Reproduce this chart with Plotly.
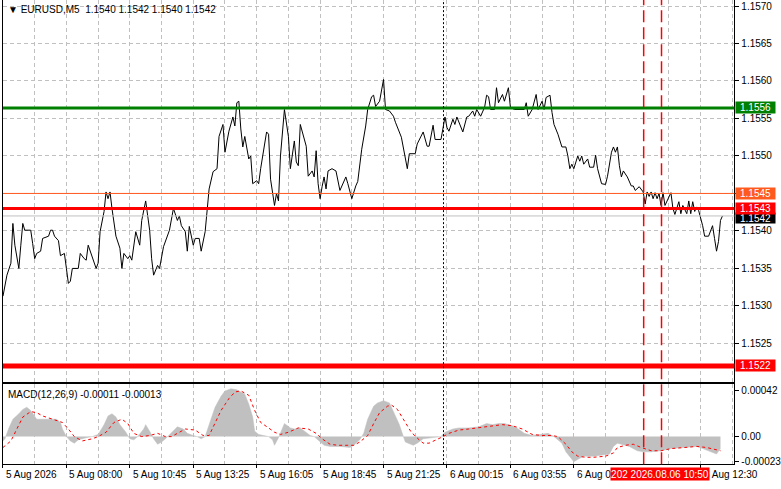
import plotly.graph_objects as go

W, H = 781, 489

# EURUSD M5 close line, bar index counted from the left edge of the chart
close_bar = [0, 2, 4, 5, 6, 7, 8, 9, 10, 11, 14, 15, 16, 17, 19, 20, 23, 24, 25, 26, 28, 29, 31, 32, 33, 34, 35, 38,
             39, 41, 42, 43, 44, 45, 47, 48, 49, 51, 52, 53, 54, 55, 57, 59, 60, 61, 63, 64, 65, 67, 69, 70, 72, 74,
             75, 76, 78, 79, 81, 84, 86, 88, 89, 90, 92, 93, 94, 96, 97, 99, 100, 102, 104, 106, 108, 109, 111, 112,
             114, 116, 117, 118, 119, 120, 121, 122, 124, 125, 126, 128, 129, 130, 133, 134, 135, 137, 138, 139, 140,
             142, 144, 145, 147, 148, 149, 150, 151, 153, 154, 156, 157, 158, 159, 160, 161, 162, 163, 164, 166, 168,
             170, 172, 173, 174, 176, 178, 179, 181, 183, 184, 186, 187, 188, 190, 191, 192, 193, 195, 197, 198, 201,
             203, 204, 205, 208, 209, 212, 214, 215, 217, 218, 221, 222, 223, 224, 225, 227, 228, 229, 232, 234, 235,
             237, 238, 239, 241, 243, 244, 245, 246, 248, 249, 250, 252, 253, 255, 256, 258, 263, 264, 265, 267, 269,
             270, 272, 273, 274, 276, 277, 278, 280, 282, 284, 285, 286, 287, 288, 290, 291, 292, 293, 295, 296, 298,
             299, 300, 302, 304, 305, 307, 308, 309, 310, 311, 312, 313, 315, 317, 318, 319, 321, 323, 324, 325, 326,
             327, 328, 329, 330, 331, 332, 333, 334, 336, 337, 338, 339, 341, 342, 343, 345, 346, 347, 348, 349, 350,
             351, 353, 354, 356, 357, 358, 359, 360, 361, 362, 363]
close_px = [1.15313, 1.15341, 1.15357, 1.15410, 1.15381, 1.15367, 1.15350, 1.15381, 1.15410, 1.15401, 1.15401,
            1.15383, 1.15363, 1.15370, 1.15373, 1.15390, 1.15393, 1.15401, 1.15401, 1.15393, 1.15387, 1.15367,
            1.15370, 1.15350, 1.15330, 1.15333, 1.15350, 1.15350, 1.15370, 1.15363, 1.15361, 1.15381, 1.15373,
            1.15363, 1.15350, 1.15357, 1.15399, 1.15426, 1.15452, 1.15443, 1.15452, 1.15430, 1.15393, 1.15377,
            1.15350, 1.15370, 1.15363, 1.15367, 1.15361, 1.15399, 1.15381, 1.15414, 1.15440, 1.15401, 1.15363,
            1.15341, 1.15354, 1.15350, 1.15379, 1.15401, 1.15430, 1.15414, 1.15420, 1.15407, 1.15399, 1.15373,
            1.15406, 1.15381, 1.15390, 1.15390, 1.15373, 1.15399, 1.15456, 1.15479, 1.15483, 1.15526, 1.15542,
            1.15505, 1.15533, 1.15552, 1.15540, 1.15571, 1.15573, 1.15536, 1.15512, 1.15526, 1.15496, 1.15500,
            1.15463, 1.15467, 1.15463, 1.15483, 1.15532, 1.15529, 1.15469, 1.15434, 1.15450, 1.15440, 1.15500,
            1.15562, 1.15526, 1.15483, 1.15520, 1.15492, 1.15487, 1.15542, 1.15532, 1.15513, 1.15473, 1.15480,
            1.15472, 1.15507, 1.15463, 1.15443, 1.15459, 1.15472, 1.15456, 1.15480, 1.15483, 1.15480, 1.15454,
            1.15466, 1.15472, 1.15463, 1.15443, 1.15460, 1.15466, 1.15509, 1.15540, 1.15562, 1.15579, 1.15581,
            1.15566, 1.15573, 1.15586, 1.15602, 1.15562, 1.15560, 1.15553, 1.15545, 1.15525, 1.15499, 1.15483,
            1.15503, 1.15503, 1.15516, 1.15532, 1.15513, 1.15513, 1.15541, 1.15522, 1.15522, 1.15538, 1.15552,
            1.15538, 1.15533, 1.15549, 1.15542, 1.15552, 1.15532, 1.15552, 1.15553, 1.15560, 1.15553, 1.15562,
            1.15553, 1.15565, 1.15581, 1.15579, 1.15562, 1.15562, 1.15591, 1.15571, 1.15582, 1.15573, 1.15591,
            1.15565, 1.15562, 1.15562, 1.15571, 1.15553, 1.15562, 1.15582, 1.15562, 1.15573, 1.15562, 1.15578,
            1.15581, 1.15558, 1.15542, 1.15529, 1.15512, 1.15512, 1.15500, 1.15483, 1.15489, 1.15483, 1.15500,
            1.15493, 1.15500, 1.15489, 1.15496, 1.15485, 1.15485, 1.15501, 1.15483, 1.15463, 1.15462, 1.15473,
            1.15505, 1.15512, 1.15505, 1.15512, 1.15487, 1.15472, 1.15480, 1.15472, 1.15460, 1.15460, 1.15454,
            1.15459, 1.15452, 1.15436, 1.15452, 1.15446, 1.15452, 1.15443, 1.15451, 1.15443, 1.15450, 1.15434,
            1.15451, 1.15434, 1.15446, 1.15451, 1.15430, 1.15422, 1.15439, 1.15423, 1.15434, 1.15423, 1.15440,
            1.15423, 1.15439, 1.15426, 1.15432, 1.15427, 1.15407, 1.15393, 1.15393, 1.15399, 1.15407, 1.15390,
            1.15373, 1.15386, 1.15414, 1.15420]

# MACD(12,26,9) main histogram and signal line
macd_bar = [0, 1, 3, 5, 8, 10, 12, 14, 17, 20, 24, 27, 29, 30, 32, 34, 36, 38, 42, 45, 48, 51, 53, 55, 57, 59, 62,
            64, 66, 68, 71, 72, 74, 76, 78, 80, 82, 85, 88, 91, 93, 96, 98, 100, 102, 104, 107, 110, 112, 115, 118,
            122, 124, 126, 127, 129, 132, 134, 136, 137, 139, 141, 142, 145, 147, 150, 152, 155, 157, 160, 162, 165,
            170, 175, 177, 180, 182, 184, 187, 189, 192, 195, 197, 200, 202, 203, 207, 209, 212, 217, 221, 223, 227,
            230, 235, 240, 244, 247, 250, 253, 257, 260, 263, 267, 272, 275, 278, 282, 284, 287, 288, 291, 293, 298,
            302, 306, 308, 310, 312, 316, 320, 323, 327, 332, 337, 343, 350, 353, 357, 360, 362]
macd_val = [-0.00004, -0.00002, 0.00008, 0.00016, 0.00021, 0.00025, 0.00027, 0.00024, 0.00016, 0.00016, 0.00016,
            0.00016, 0.00013, 0.00007, 0.0, -0.00004, -0.00006, -0.00003, -0.00001, 0.0, 0.00002, 0.00011, 0.00019,
            0.00021, 0.00018, 0.00011, 0.00004, -0.00002, -0.00003, 0.0, 0.00007, 0.00011, 0.00005, -0.00002,
            -0.00007, -0.00005, -0.00002, 0.00004, 0.00009, 0.00007, 0.00003, 0.00001, 0.0, -0.00002, 0.0, 0.00011,
            0.00027, 0.00037, 0.00042, 0.00044, 0.00043, 0.00039, 0.00030, 0.00018, 0.00005, 0.00002, 0.00001, 0.0,
            -0.00003, -0.00008, -0.00001, 0.00008, 0.00012, 0.00008, 0.00007, 0.00008, 0.00005, 0.00001, 0.0,
            -0.00005, -0.00008, -0.00009, -0.00009, -0.00010, -0.00008, -0.00003, 0.00003, 0.00016, 0.00028,
            0.00031, 0.00033, 0.00031, 0.00023, 0.00011, 0.0, -0.00005, -0.00008, -0.00006, -0.00002, -0.00001, 0.0,
            0.00004, 0.00007, 0.00008, 0.00008, 0.00009, 0.00012, 0.00011, 0.00012, 0.00012, 0.00010, 0.00007,
            0.00003, 0.00001, 0.00002, 0.00003, 0.0, -0.00006, -0.00014, -0.00020, -0.00023, -0.00020, -0.00018,
            -0.00018, -0.00017, -0.00016, -0.00009, -0.00006, -0.00007, -0.00009, -0.00013, -0.00014, -0.00014,
            -0.00013, -0.00011, -0.00010, -0.00009, -0.00011, -0.00014, -0.00016, -0.00011]
signal_bar = [0, 4, 7, 10, 14, 17, 20, 25, 30, 33, 36, 40, 45, 48, 52, 56, 60, 63, 66, 70, 74, 78, 82, 85, 89, 92,
              97, 101, 104, 107, 110, 114, 117, 120, 124, 127, 130, 134, 137, 140, 144, 149, 154, 158, 161, 165,
              169, 174, 177, 180, 184, 187, 190, 194, 196, 199, 202, 206, 210, 212, 215, 219, 222, 225, 230, 235,
              240, 247, 252, 257, 262, 267, 272, 277, 280, 284, 287, 290, 294, 298, 304, 308, 310, 314, 318, 322,
              327, 332, 337, 344, 350, 355, 359, 362]
signal_val = [-0.00010, -0.00004, 0.00007, 0.00018, 0.00023, 0.00022, 0.00019, 0.00016, 0.00013, 0.00007, 0.0,
              -0.00004, -0.00002, 0.0, 0.00004, 0.00013, 0.00016, 0.00012, 0.00003, 0.0, 0.00001, 0.00003, 0.0, 0.0,
              0.00004, 0.00007, 0.00006, 0.00001, 0.00001, 0.00012, 0.00024, 0.00035, 0.00041, 0.00042, 0.00038,
              0.00024, 0.00013, 0.00008, 0.00004, 0.00002, 0.00004, 0.00008, 0.00007, 0.00003, -0.00002, -0.00007,
              -0.00008, -0.00008, -0.00008, -0.00005, 0.00001, 0.00012, 0.00022, 0.00028, 0.00029, 0.00025, 0.00016,
              0.00004, -0.00003, -0.00006, -0.00006, -0.00003, 0.0, 0.00003, 0.00006, 0.00007, 0.00008, 0.00010,
              0.00011, 0.00010, 0.00007, 0.00002, 0.00001, 0.00001, 0.0, -0.00007, -0.00014, -0.00018, -0.00019,
              -0.00019, -0.00018, -0.00015, -0.00010, -0.00008, -0.00007, -0.00010, -0.00013, -0.00013, -0.00011,
              -0.00010, -0.00009, -0.00010, -0.00012, -0.00013]

tick_bar = [0, 32, 64, 96, 128, 160, 192, 224, 256, 288, 352]
tick_text = ["5 Aug 2026", "5 Aug 08:00", "5 Aug 10:45", "5 Aug 13:25", "5 Aug 16:05", "5 Aug 18:45",
             "5 Aug 21:25", "6 Aug 00:15", "6 Aug 03:55", "6 Aug 0", "6 Aug 12:30"]

price_ticks = [1.1525, 1.1530, 1.1535, 1.1540, 1.1545, 1.1550, 1.1555, 1.1560, 1.1565, 1.1570]
macd_ticks = [0.00042, 0.0, -0.00023]
macd_tick_text = ["0.00042", "0.00", "-0.00023"]

levels = [1.15564, 1.1545, 1.1543, 1.1522]
level_colors = ["#008000", "#ff5a1e", "#ff0000", "#ff0000"]
level_widths = [3, 1, 3, 5]
bid = 1.1542
separator_bar = 222.25
cursor_bars = [323.25, 332.25]
cursor_text = "202 2026.08.06 10:50"
symbol_text = "\u25bc EURUSD,M5  1.1540 1.1542 1.1540 1.1542"
macd_text = "MACD(12,26,9) -0.00011 -0.00013"

FONT = "Liberation Sans, Arial, sans-serif"
GRID = "#c0c0c0"


def py(y):
    # pixel row -> paper coordinate
    return 1 - y / H


fig = go.Figure()
fig.add_trace(go.Scatter(x=close_bar, y=close_px, mode="lines", line=dict(color="black", width=1),
                         xaxis="x", yaxis="y", hoverinfo="skip"))
fig.add_trace(go.Scatter(x=macd_bar, y=macd_val, mode="lines", fill="tozeroy", fillcolor="#c0c0c0",
                         line=dict(color="#c0c0c0", width=0.5), xaxis="x2", yaxis="y2", hoverinfo="skip"))
fig.add_trace(go.Scatter(x=signal_bar, y=signal_val, mode="lines", line=dict(color="#ff0000", width=1, dash="3px,3px"),
                         xaxis="x2", yaxis="y2", hoverinfo="skip"))

shapes = []
# bid line
shapes.append(dict(type="line", xref="x domain", x0=0, x1=1, yref="y", y0=bid, y1=bid,
                   line=dict(color="#c0c0c0", width=1)))
for v, c, w in zip(levels, level_colors, level_widths):
    shapes.append(dict(type="line", xref="x domain", x0=0, x1=1, yref="y", y0=v, y1=v,
                       line=dict(color=c, width=w)))
shapes.append(dict(type="line", xref="x", x0=separator_bar, x1=separator_bar, yref="paper", y0=py(467), y1=1,
                   line=dict(color="black", width=1, dash="2px,2px")))
for b in cursor_bars:
    shapes.append(dict(type="line", xref="x", x0=b, x1=b, yref="paper", y0=py(467), y1=1,
                       line=dict(color="#ff0000", width=1.5, dash="12px,5px")))

ann = []
ann.append(dict(text=symbol_text, xref="paper", yref="paper", x=6 / W, y=py(10), xanchor="left",
                yanchor="middle", showarrow=False, font=dict(family=FONT, size=10, color="black")))
ann.append(dict(text=macd_text, xref="paper", yref="paper", x=6 / W, y=py(397), xanchor="left",
                yanchor="middle", showarrow=False, font=dict(family=FONT, size=10, color="black")))
for b, t in zip(tick_bar, tick_text):
    ann.append(dict(text=t, xref="x2", yref="paper", x=b, y=py(477), xanchor="left", xshift=1,
                    yanchor="middle", showarrow=False, font=dict(family=FONT, size=10, color="black")))
ann.append(dict(text=cursor_text, xref="x2", yref="paper", x=sum(cursor_bars) / 2, xshift=7, y=py(477),
                xanchor="center", yanchor="middle", showarrow=False, bgcolor="#ff0000", borderpad=0,
                width=98, height=12, font=dict(family=FONT, size=10, color="white")))
# price labels on the right scale
ann.append(dict(text=f"{bid:.4f}", xref="paper", yref="y", x=742 / W, y=bid, yshift=-2, xanchor="left",
                yanchor="middle", showarrow=False, bgcolor="black", borderpad=0, width=39, height=10,
                font=dict(family=FONT, size=10, color="white")))
for v, c in zip(levels, level_colors):
    ann.append(dict(text=f"{v:.4f}", xref="paper", yref="y", x=742 / W, y=v, xanchor="left",
                    yanchor="middle", showarrow=False, bgcolor=c, borderpad=0, width=39, height=11,
                    font=dict(family=FONT, size=10, color="white")))

axis_common = dict(showline=True, linecolor="black", linewidth=1, zeroline=False)

fig.update_layout(
    autosize=True,
    margin=dict(l=0, r=0, t=0, b=0),
    paper_bgcolor="white", plot_bgcolor="white",
    showlegend=False,
    shapes=shapes, annotations=ann,
    xaxis=dict(domain=[3 / W, 741 / W], range=[0, 369], anchor="y", matches="x2",
               tickvals=tick_bar, showticklabels=False, ticks="",
               showgrid=True, gridcolor=GRID, griddash="4px,3px",
               minor=dict(tick0=16, dtick=32, showgrid=True, gridcolor=GRID, griddash="4px,3px"),
               **axis_common),
    yaxis=dict(domain=[py(384), 1], range=[1.15199, 1.15708], anchor="x", side="right",
               tickvals=price_ticks, ticktext=[f"{t:.4f}" for t in price_ticks],
               ticks="outside", ticklen=4, tickcolor="black", mirror=True,
               showgrid=True, gridcolor=GRID, griddash="4px,3px",
               tickfont=dict(family=FONT, size=10, color="black"), **axis_common),
    xaxis2=dict(domain=[3 / W, 741 / W], range=[0, 369], anchor="y2",
                tickvals=tick_bar, showticklabels=False, ticks="outside", ticklen=3, tickcolor="black",
                showgrid=True, gridcolor=GRID, griddash="4px,3px", mirror=True,
                minor=dict(tick0=16, dtick=32, showgrid=True, gridcolor=GRID, griddash="4px,3px"),
                **axis_common),
    yaxis2=dict(domain=[py(467), py(386)], range=[-0.000253, 0.000487], anchor="x2", side="right",
                tickvals=macd_ticks, ticktext=macd_tick_text, ticks="outside", ticklen=4, tickcolor="black",
                showgrid=False, mirror=True,
                tickfont=dict(family=FONT, size=10, color="black"), **axis_common),
)

# let the figure fill the browser window exactly
fit_page = (
    "var gd = document.getElementById('{plot_id}');"
    "document.documentElement.style.height = '100%';"
    "document.documentElement.style.overflow = 'hidden';"
    "document.body.style.height = '100%';"
    "document.body.style.margin = '0';"
    "gd.parentElement.style.height = '100%';"
    "gd.style.width = '100%'; gd.style.height = '100%';"
    "Plotly.Plots.resize(gd);"
)
fig.write_html("out.html", config={"displayModeBar": False, "responsive": True},
               default_width="100%", default_height="100%", post_script=fit_page)
